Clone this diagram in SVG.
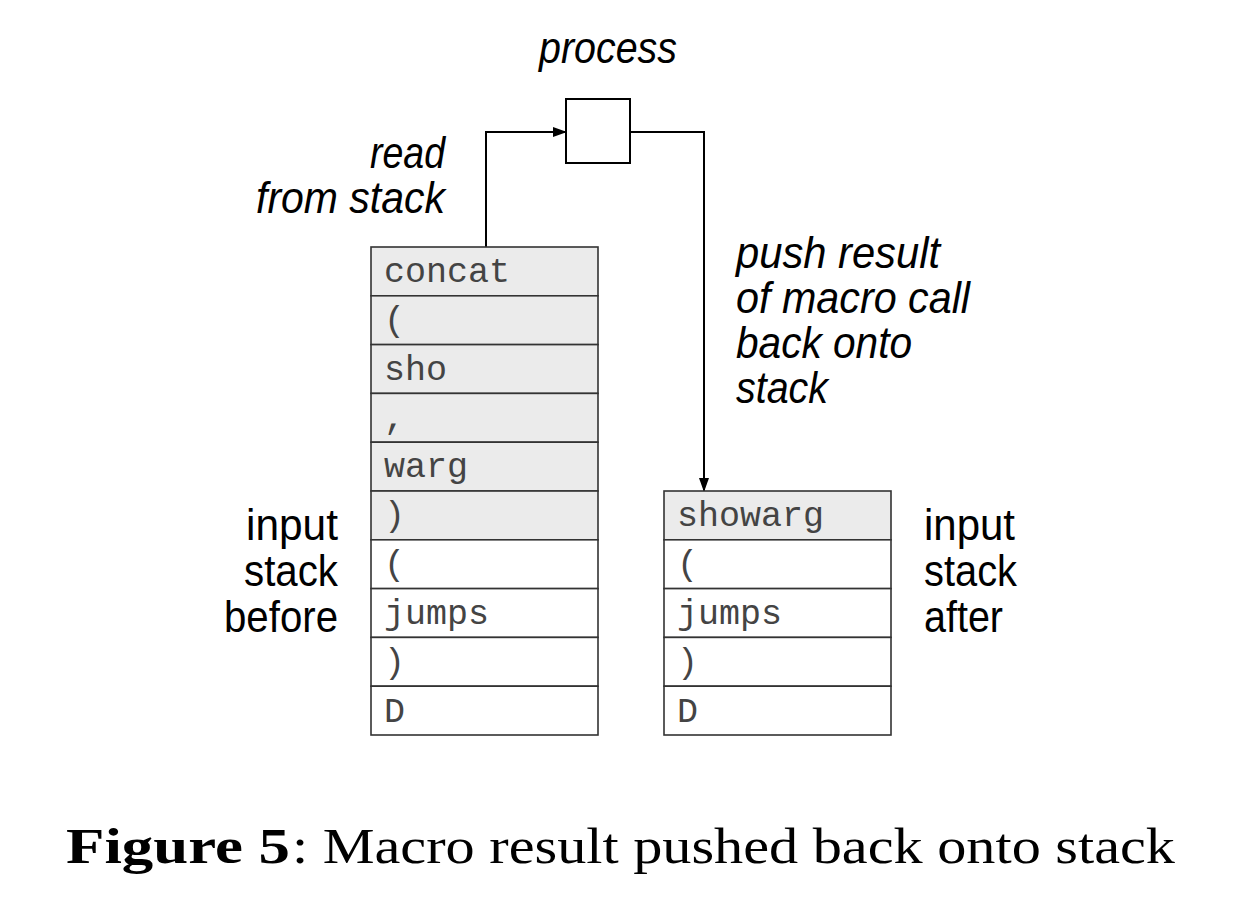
<svg xmlns="http://www.w3.org/2000/svg" width="1240" height="924" viewBox="0 0 1240 924">
<style>
.lbl{font-family:"Liberation Sans",Arial,sans-serif;font-size:44px;fill:#000}
.it{font-style:italic}
.mono{font-family:"Liberation Mono","Courier New",monospace;font-size:35px;fill:#444}
.cell{stroke:#333;stroke-width:1.6;fill:#fff}
.g{fill:#ebebeb}
.conn{fill:none;stroke:#000;stroke-width:2}
.cap{font-family:"Liberation Serif","Times New Roman",serif;font-size:50px;fill:#000}
</style>
<defs>
<marker id="ah" markerWidth="14" markerHeight="10" refX="13" refY="5" orient="auto" markerUnits="userSpaceOnUse">
<path d="M0,0 L14,5 L0,10 Z" fill="#000"/>
</marker>
</defs>
<rect width="1240" height="924" fill="#fff"/>

<g id="process">
<rect x="566" y="99" width="64" height="64" fill="#fff" stroke="#000" stroke-width="2"/>
<text class="lbl it" x="539" y="63" textLength="138" lengthAdjust="spacingAndGlyphs">process</text>
</g>

<g id="connectors">
<path class="conn" d="M486,247 L486,132 L566,132" marker-end="url(#ah)"/>
<path class="conn" d="M630,132 L704,132 L704,491" marker-end="url(#ah)"/>
</g>

<g id="label-read">
<text class="lbl it" x="370" y="168" textLength="75" lengthAdjust="spacingAndGlyphs">read</text>
<text class="lbl it" x="256" y="213" textLength="189" lengthAdjust="spacingAndGlyphs">from stack</text>
</g>

<g id="label-push">
<text class="lbl it" x="736" y="268" textLength="204" lengthAdjust="spacingAndGlyphs">push result</text>
<text class="lbl it" x="736" y="313" textLength="234" lengthAdjust="spacingAndGlyphs">of macro call</text>
<text class="lbl it" x="736" y="358" textLength="176" lengthAdjust="spacingAndGlyphs">back onto</text>
<text class="lbl it" x="736" y="403" textLength="92" lengthAdjust="spacingAndGlyphs">stack</text>
</g>

<g id="label-before">
<text class="lbl" x="246" y="540" textLength="92" lengthAdjust="spacingAndGlyphs">input</text>
<text class="lbl" x="244" y="586" textLength="94" lengthAdjust="spacingAndGlyphs">stack</text>
<text class="lbl" x="224" y="632" textLength="114" lengthAdjust="spacingAndGlyphs">before</text>
</g>

<g id="label-after">
<text class="lbl" x="924" y="540" textLength="91" lengthAdjust="spacingAndGlyphs">input</text>
<text class="lbl" x="924" y="586" textLength="93" lengthAdjust="spacingAndGlyphs">stack</text>
<text class="lbl" x="924" y="632" textLength="79" lengthAdjust="spacingAndGlyphs">after</text>
</g>

<g id="stack-before">
<rect class="cell g" x="371" y="247" width="227" height="48.8"/>
<rect class="cell g" x="371" y="295.8" width="227" height="48.8"/>
<rect class="cell g" x="371" y="344.6" width="227" height="48.8"/>
<rect class="cell g" x="371" y="393.4" width="227" height="48.8"/>
<rect class="cell g" x="371" y="442.2" width="227" height="48.8"/>
<rect class="cell g" x="371" y="491" width="227" height="48.8"/>
<rect class="cell" x="371" y="539.8" width="227" height="48.8"/>
<rect class="cell" x="371" y="588.6" width="227" height="48.8"/>
<rect class="cell" x="371" y="637.4" width="227" height="48.8"/>
<rect class="cell" x="371" y="686.2" width="227" height="48.8"/>
<text class="mono" x="384" y="282">concat</text>
<text class="mono" x="384" y="331">(</text>
<text class="mono" x="384" y="380">sho</text>
<text class="mono" x="384" y="429">,</text>
<text class="mono" x="384" y="477">warg</text>
<text class="mono" x="384" y="526">)</text>
<text class="mono" x="384" y="575">(</text>
<text class="mono" x="384" y="624">jumps</text>
<text class="mono" x="384" y="673">)</text>
<text class="mono" x="384" y="722">D</text>
</g>

<g id="stack-after">
<rect class="cell g" x="664" y="491" width="227" height="48.8"/>
<rect class="cell" x="664" y="539.8" width="227" height="48.8"/>
<rect class="cell" x="664" y="588.6" width="227" height="48.8"/>
<rect class="cell" x="664" y="637.4" width="227" height="48.8"/>
<rect class="cell" x="664" y="686.2" width="227" height="48.8"/>
<text class="mono" x="677" y="526">showarg</text>
<text class="mono" x="677" y="575">(</text>
<text class="mono" x="677" y="624">jumps</text>
<text class="mono" x="677" y="673">)</text>
<text class="mono" x="677" y="722">D</text>
</g>

<g id="caption">
<text class="cap" x="66" y="863" font-weight="bold" textLength="224" lengthAdjust="spacingAndGlyphs">Figure 5</text>
<text class="cap" x="292" y="863" textLength="883" lengthAdjust="spacingAndGlyphs">: Macro result pushed back onto stack</text>
</g>
</svg>
